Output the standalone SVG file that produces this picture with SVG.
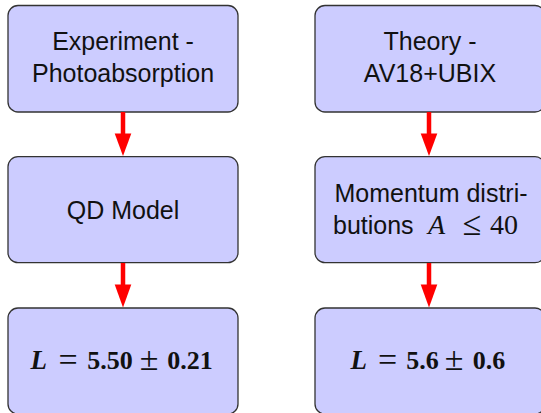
<svg xmlns="http://www.w3.org/2000/svg" width="541" height="413" viewBox="0 0 541 413">
<style>
.box{fill:#ccccff;stroke:#333333;stroke-width:1.3}
.t{font-family:"Liberation Sans","DejaVu Sans",sans-serif;font-size:25px;fill:#111;text-anchor:middle}
.s{font-family:"Liberation Sans","DejaVu Sans",sans-serif;font-size:25px;fill:#111}
.m{font-family:"Liberation Serif","DejaVu Serif",serif;font-size:26px;fill:#111;font-weight:bold;text-anchor:middle}
.mL{font-family:"Liberation Serif","DejaVu Serif",serif;font-size:27px;fill:#111;font-weight:bold;font-style:italic}
.op{font-family:"Liberation Serif","DejaVu Serif",serif;font-size:34px;fill:#111;text-anchor:middle}
.mr{font-family:"Liberation Serif","DejaVu Serif",serif;font-size:28px;fill:#111}
.sh{stroke:#ff0000;stroke-width:4.5;fill:none}
.hd{fill:#ff0000}
</style>
<rect width="541" height="413" fill="#ffffff"/>
<g id="n1"><rect class="box" x="8" y="5.5" width="230" height="106.5" rx="10"/>
<text class="t" x="123" y="50">Experiment -</text><text class="t" x="123" y="82">Photoabsorption</text></g>
<g id="n2"><rect class="box" x="8" y="156.7" width="230" height="106" rx="10"/>
<text class="t" x="123" y="218.5">QD Model</text></g>
<g id="n3"><rect class="box" x="8" y="308" width="230" height="106" rx="10"/>
<text class="mL" x="30.5" y="368.5">L</text>
<text class="op" x="68" y="370.5">=</text>
<text class="m" x="110" y="368.5">5.50</text>
<text class="op" x="149" y="369.5">±</text>
<text class="m" x="190" y="368.5">0.21</text></g>
<g id="n4"><rect class="box" x="315" y="5.5" width="230" height="106.5" rx="10"/>
<text class="t" x="430" y="50">Theory -</text><text class="t" x="430" y="82">AV18+UBIX</text></g>
<g id="n5"><rect class="box" x="315" y="156.7" width="230" height="106" rx="10"/>
<text class="t" x="431" y="202">Momentum distri-</text>
<text class="s" x="333" y="234">butions</text>
<text class="mr" x="428" y="234" font-style="italic" font-size="32">A</text>
<text class="op" x="472" y="235" font-size="30">≤</text>
<text class="mr" x="490" y="234">40</text></g>
<g id="n6"><rect class="box" x="315" y="308" width="230" height="106" rx="10"/>
<text class="mL" x="350.5" y="368.5">L</text>
<text class="op" x="387.5" y="370.5">=</text>
<text class="m" x="422.5" y="368.5">5.6</text>
<text class="op" x="454" y="369.5">±</text>
<text class="m" x="489" y="368.5">0.6</text></g>
<g id="connectors">
<path class="sh" d="M123 112V135"/><path class="hd" d="M114.7 133.5H131.3L123 156Z"/>
<path class="sh" d="M123 263V286"/><path class="hd" d="M114.7 284.5H131.3L123 307.5Z"/>
<path class="sh" d="M429 112V135"/><path class="hd" d="M420.7 133.5H437.3L429 156Z"/>
<path class="sh" d="M429 263V286"/><path class="hd" d="M420.7 284.5H437.3L429 307.5Z"/>
</g>
</svg>
